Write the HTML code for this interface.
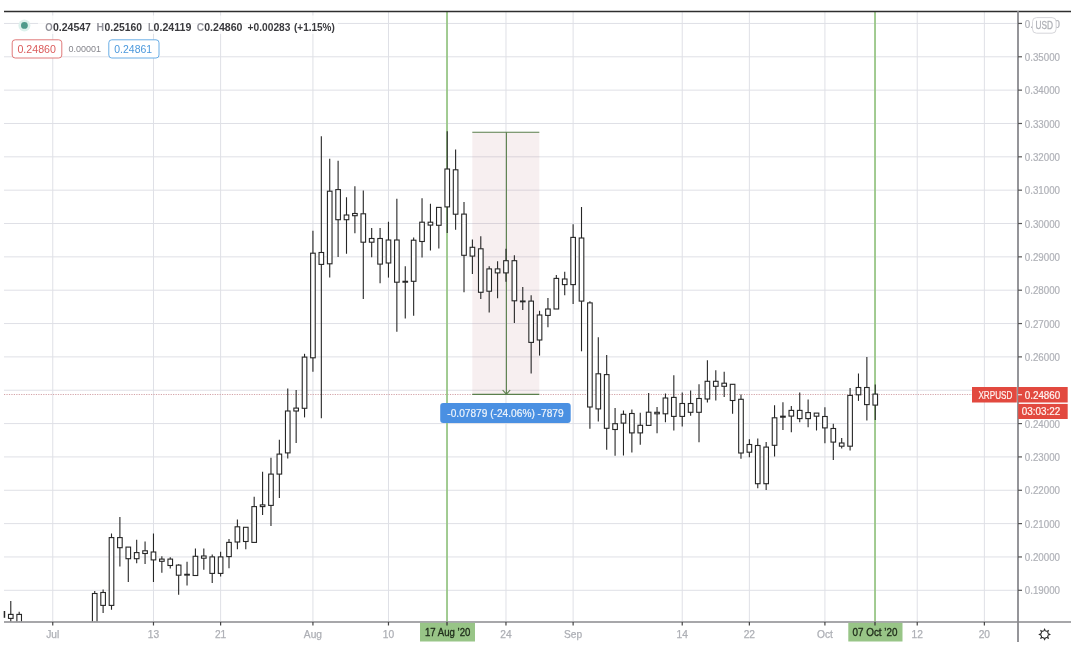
<!DOCTYPE html>
<html><head><meta charset="utf-8"><title>XRPUSD chart</title>
<style>
html,body{margin:0;padding:0;background:#fff;}
body{width:1080px;height:655px;overflow:hidden;font-family:"Liberation Sans", sans-serif;}
svg{display:block;will-change:transform;}
</style></head>
<body>
<svg width="1080" height="655" viewBox="0 0 1080 655">
<defs><clipPath id="chartclip"><rect x="4" y="12" width="1013" height="609.5"/></clipPath></defs>
<rect width="1080" height="655" fill="#fff"/>
<g stroke="#dfe0e6" stroke-width="1">
<line x1="4" y1="23.45" x2="1017" y2="23.45"/>
<line x1="4" y1="56.79" x2="1017" y2="56.79"/>
<line x1="4" y1="90.14" x2="1017" y2="90.14"/>
<line x1="4" y1="123.48" x2="1017" y2="123.48"/>
<line x1="4" y1="156.83" x2="1017" y2="156.83"/>
<line x1="4" y1="190.17" x2="1017" y2="190.17"/>
<line x1="4" y1="223.51" x2="1017" y2="223.51"/>
<line x1="4" y1="256.86" x2="1017" y2="256.86"/>
<line x1="4" y1="290.20" x2="1017" y2="290.20"/>
<line x1="4" y1="323.55" x2="1017" y2="323.55"/>
<line x1="4" y1="356.89" x2="1017" y2="356.89"/>
<line x1="4" y1="390.23" x2="1017" y2="390.23"/>
<line x1="4" y1="423.58" x2="1017" y2="423.58"/>
<line x1="4" y1="456.92" x2="1017" y2="456.92"/>
<line x1="4" y1="490.27" x2="1017" y2="490.27"/>
<line x1="4" y1="523.61" x2="1017" y2="523.61"/>
<line x1="4" y1="556.95" x2="1017" y2="556.95"/>
<line x1="4" y1="590.30" x2="1017" y2="590.30"/>
<line x1="52.75" y1="12" x2="52.75" y2="621"/>
<line x1="153.47" y1="12" x2="153.47" y2="621"/>
<line x1="220.61" y1="12" x2="220.61" y2="621"/>
<line x1="312.93" y1="12" x2="312.93" y2="621"/>
<line x1="388.47" y1="12" x2="388.47" y2="621"/>
<line x1="447.22" y1="12" x2="447.22" y2="621"/>
<line x1="505.97" y1="12" x2="505.97" y2="621"/>
<line x1="573.12" y1="12" x2="573.12" y2="621"/>
<line x1="682.23" y1="12" x2="682.23" y2="621"/>
<line x1="749.37" y1="12" x2="749.37" y2="621"/>
<line x1="824.91" y1="12" x2="824.91" y2="621"/>
<line x1="875.26" y1="12" x2="875.26" y2="621"/>
<line x1="917.23" y1="12" x2="917.23" y2="621"/>
<line x1="984.37" y1="12" x2="984.37" y2="621"/>
</g>
<rect x="472.3" y="132" width="67" height="262.4" fill="rgb(190,120,135)" fill-opacity="0.12"/>
<line x1="4" y1="394.5" x2="972" y2="394.5" stroke="#d4a3a8" stroke-width="1.1" stroke-dasharray="1.2,1.25"/>
<line x1="447.0" y1="12" x2="447.0" y2="622" stroke="#8fc27a" stroke-width="1.6"/>
<line x1="875.0" y1="12" x2="875.0" y2="622" stroke="#8fc27a" stroke-width="1.6"/>
<g stroke="#5a7f4c" stroke-width="1.1" fill="none">
<line x1="472.3" y1="132.3" x2="539.3" y2="132.3"/>
<line x1="472.3" y1="394.4" x2="539.3" y2="394.4"/>
<line x1="506.4" y1="132.3" x2="506.4" y2="394.4"/>
<polyline points="502.6,390 506.4,394.2 510.2,390"/>
</g>
<g clip-path="url(#chartclip)" stroke="#262626" fill="#fff">
<line x1="10.78" y1="601" x2="10.78" y2="625" stroke-width="1.1"/>
<rect x="8.48" y="614.4" width="4.6" height="4.00" stroke-width="1.1"/>
<line x1="19.18" y1="611.7" x2="19.18" y2="625" stroke-width="1.1"/>
<rect x="16.88" y="614.4" width="4.6" height="10.60" stroke-width="1.1"/>
<line x1="94.72" y1="591" x2="94.72" y2="625" stroke-width="1.1"/>
<rect x="92.42" y="593.5" width="4.6" height="31.50" stroke-width="1.1"/>
<line x1="103.11" y1="589.6" x2="103.11" y2="613" stroke-width="1.1"/>
<rect x="100.81" y="592.5" width="4.6" height="12.90" stroke-width="1.1"/>
<line x1="111.50" y1="533.4" x2="111.50" y2="609.8" stroke-width="1.1"/>
<rect x="109.20" y="537.6" width="4.6" height="67.80" stroke-width="1.1"/>
<line x1="119.89" y1="516.9" x2="119.89" y2="566.4" stroke-width="1.1"/>
<rect x="117.59" y="537.6" width="4.6" height="10.10" stroke-width="1.1"/>
<line x1="128.29" y1="547.1" x2="128.29" y2="581.9" stroke-width="1.1"/>
<rect x="125.99" y="547.1" width="4.6" height="11.60" stroke-width="1.1"/>
<line x1="136.68" y1="539.8" x2="136.68" y2="563.2" stroke-width="1.1"/>
<rect x="134.38" y="552.6" width="4.6" height="6.10" stroke-width="1.1"/>
<line x1="145.07" y1="541.6" x2="145.07" y2="564" stroke-width="1.1"/>
<rect x="142.77" y="550.8" width="4.6" height="2.70" stroke-width="1.1"/>
<line x1="153.47" y1="533.4" x2="153.47" y2="581.9" stroke-width="1.1"/>
<rect x="151.17" y="552" width="4.6" height="7.90" stroke-width="1.1"/>
<line x1="161.86" y1="556.3" x2="161.86" y2="572.8" stroke-width="1.1"/>
<rect x="159.56" y="559.1" width="4.6" height="2.20" stroke-width="1.1"/>
<line x1="170.25" y1="557.2" x2="170.25" y2="568.6" stroke-width="1.1"/>
<rect x="167.95" y="559.1" width="4.6" height="6.40" stroke-width="1.1"/>
<line x1="178.65" y1="564.2" x2="178.65" y2="594.8" stroke-width="1.1"/>
<rect x="176.34" y="565.1" width="4.6" height="10.10" stroke-width="1.1"/>
<line x1="187.04" y1="561.8" x2="187.04" y2="585.6" stroke-width="1.1"/>
<rect x="184.74" y="574.3" width="4.6" height="0.80" stroke-width="1.1"/>
<line x1="195.43" y1="548.5" x2="195.43" y2="575.5" stroke-width="1.1"/>
<rect x="193.13" y="556.3" width="4.6" height="19.20" stroke-width="1.1"/>
<line x1="203.82" y1="548.5" x2="203.82" y2="569.7" stroke-width="1.1"/>
<rect x="201.52" y="556" width="4.6" height="2.20" stroke-width="1.1"/>
<line x1="212.22" y1="554.5" x2="212.22" y2="582.9" stroke-width="1.1"/>
<rect x="209.92" y="556.9" width="4.6" height="16.50" stroke-width="1.1"/>
<line x1="220.61" y1="551.8" x2="220.61" y2="576.5" stroke-width="1.1"/>
<rect x="218.31" y="556.9" width="4.6" height="16.50" stroke-width="1.1"/>
<line x1="229.00" y1="539" x2="229.00" y2="568.3" stroke-width="1.1"/>
<rect x="226.70" y="542.4" width="4.6" height="14.20" stroke-width="1.1"/>
<line x1="237.40" y1="519.5" x2="237.40" y2="549.3" stroke-width="1.1"/>
<rect x="235.10" y="526.8" width="4.6" height="15.20" stroke-width="1.1"/>
<line x1="245.79" y1="527.3" x2="245.79" y2="549.3" stroke-width="1.1"/>
<rect x="243.49" y="527.3" width="4.6" height="14.20" stroke-width="1.1"/>
<line x1="254.18" y1="496.8" x2="254.18" y2="543" stroke-width="1.1"/>
<rect x="251.88" y="506.6" width="4.6" height="35.80" stroke-width="1.1"/>
<line x1="262.58" y1="471.7" x2="262.58" y2="515.1" stroke-width="1.1"/>
<rect x="260.28" y="504.9" width="4.6" height="1.70" stroke-width="1.1"/>
<line x1="270.97" y1="457.8" x2="270.97" y2="526.1" stroke-width="1.1"/>
<rect x="268.67" y="474.1" width="4.6" height="31.30" stroke-width="1.1"/>
<line x1="279.36" y1="439.7" x2="279.36" y2="498" stroke-width="1.1"/>
<rect x="277.06" y="454.1" width="4.6" height="20.00" stroke-width="1.1"/>
<line x1="287.75" y1="388.5" x2="287.75" y2="458.5" stroke-width="1.1"/>
<rect x="285.45" y="411" width="4.6" height="41.90" stroke-width="1.1"/>
<line x1="296.15" y1="390" x2="296.15" y2="443" stroke-width="1.1"/>
<rect x="293.85" y="408.1" width="4.6" height="2.90" stroke-width="1.1"/>
<line x1="304.54" y1="353.8" x2="304.54" y2="417.4" stroke-width="1.1"/>
<rect x="302.24" y="357.1" width="4.6" height="51.20" stroke-width="1.1"/>
<line x1="312.93" y1="230.7" x2="312.93" y2="371.7" stroke-width="1.1"/>
<rect x="310.63" y="253.2" width="4.6" height="104.60" stroke-width="1.1"/>
<line x1="321.33" y1="136.3" x2="321.33" y2="418.2" stroke-width="1.1"/>
<rect x="319.03" y="252.5" width="4.6" height="11.90" stroke-width="1.1"/>
<line x1="329.72" y1="158.8" x2="329.72" y2="277.6" stroke-width="1.1"/>
<rect x="327.42" y="191.2" width="4.6" height="72.60" stroke-width="1.1"/>
<line x1="338.11" y1="160.7" x2="338.11" y2="257.1" stroke-width="1.1"/>
<rect x="335.81" y="189.6" width="4.6" height="30.10" stroke-width="1.1"/>
<line x1="346.50" y1="197.3" x2="346.50" y2="253.8" stroke-width="1.1"/>
<rect x="344.20" y="215" width="4.6" height="4.70" stroke-width="1.1"/>
<line x1="354.90" y1="186.3" x2="354.90" y2="233.3" stroke-width="1.1"/>
<rect x="352.60" y="213.5" width="4.6" height="2.20" stroke-width="1.1"/>
<line x1="363.29" y1="190.6" x2="363.29" y2="299.1" stroke-width="1.1"/>
<rect x="360.99" y="213.8" width="4.6" height="28.40" stroke-width="1.1"/>
<line x1="371.68" y1="227.9" x2="371.68" y2="257.2" stroke-width="1.1"/>
<rect x="369.38" y="238.5" width="4.6" height="3.70" stroke-width="1.1"/>
<line x1="380.08" y1="227.9" x2="380.08" y2="283.3" stroke-width="1.1"/>
<rect x="377.78" y="238.5" width="4.6" height="25.60" stroke-width="1.1"/>
<line x1="388.47" y1="221.7" x2="388.47" y2="277.6" stroke-width="1.1"/>
<rect x="386.17" y="240" width="4.6" height="23.00" stroke-width="1.1"/>
<line x1="396.86" y1="198.7" x2="396.86" y2="331.7" stroke-width="1.1"/>
<rect x="394.56" y="240" width="4.6" height="42.20" stroke-width="1.1"/>
<line x1="405.26" y1="266.2" x2="405.26" y2="318.4" stroke-width="1.1"/>
<rect x="402.96" y="281.3" width="4.6" height="0.90" stroke-width="1.1"/>
<line x1="413.65" y1="237.4" x2="413.65" y2="315.7" stroke-width="1.1"/>
<rect x="411.35" y="240.2" width="4.6" height="41.10" stroke-width="1.1"/>
<line x1="422.04" y1="198.3" x2="422.04" y2="257.6" stroke-width="1.1"/>
<rect x="419.74" y="222.2" width="4.6" height="19.30" stroke-width="1.1"/>
<line x1="430.44" y1="203.8" x2="430.44" y2="250.6" stroke-width="1.1"/>
<rect x="428.14" y="222.2" width="4.6" height="2.90" stroke-width="1.1"/>
<line x1="438.83" y1="207.4" x2="438.83" y2="248.4" stroke-width="1.1"/>
<rect x="436.53" y="207.4" width="4.6" height="17.90" stroke-width="1.1"/>
<line x1="447.22" y1="131.3" x2="447.22" y2="232.9" stroke-width="1.1"/>
<rect x="444.92" y="169" width="4.6" height="37.90" stroke-width="1.1"/>
<line x1="455.61" y1="149.6" x2="455.61" y2="229.8" stroke-width="1.1"/>
<rect x="453.31" y="169.8" width="4.6" height="44.40" stroke-width="1.1"/>
<line x1="464.01" y1="202" x2="464.01" y2="292.3" stroke-width="1.1"/>
<rect x="461.71" y="214.1" width="4.6" height="41.20" stroke-width="1.1"/>
<line x1="472.40" y1="239.6" x2="472.40" y2="274" stroke-width="1.1"/>
<rect x="470.10" y="247.3" width="4.6" height="8.80" stroke-width="1.1"/>
<line x1="480.79" y1="236.3" x2="480.79" y2="299.1" stroke-width="1.1"/>
<rect x="478.49" y="248.8" width="4.6" height="43.50" stroke-width="1.1"/>
<line x1="489.19" y1="266.2" x2="489.19" y2="312.4" stroke-width="1.1"/>
<rect x="486.89" y="268.9" width="4.6" height="22.30" stroke-width="1.1"/>
<line x1="497.58" y1="261.2" x2="497.58" y2="298.2" stroke-width="1.1"/>
<rect x="495.28" y="268.9" width="4.6" height="4.00" stroke-width="1.1"/>
<line x1="505.97" y1="248.8" x2="505.97" y2="281.7" stroke-width="1.1"/>
<rect x="503.67" y="260.7" width="4.6" height="12.20" stroke-width="1.1"/>
<line x1="514.37" y1="255.2" x2="514.37" y2="322.9" stroke-width="1.1"/>
<rect x="512.07" y="260.7" width="4.6" height="40.10" stroke-width="1.1"/>
<line x1="522.76" y1="287" x2="522.76" y2="309.9" stroke-width="1.1"/>
<rect x="520.46" y="301" width="4.6" height="0.80" stroke-width="1.1"/>
<line x1="531.15" y1="295.2" x2="531.15" y2="373.5" stroke-width="1.1"/>
<rect x="528.85" y="301.1" width="4.6" height="41.30" stroke-width="1.1"/>
<line x1="539.54" y1="310.8" x2="539.54" y2="355.6" stroke-width="1.1"/>
<rect x="537.24" y="315" width="4.6" height="25.00" stroke-width="1.1"/>
<line x1="547.94" y1="298" x2="547.94" y2="327.3" stroke-width="1.1"/>
<rect x="545.64" y="309" width="4.6" height="6.40" stroke-width="1.1"/>
<line x1="556.33" y1="275.1" x2="556.33" y2="309" stroke-width="1.1"/>
<rect x="554.03" y="278.4" width="4.6" height="30.60" stroke-width="1.1"/>
<line x1="564.72" y1="271.8" x2="564.72" y2="295.2" stroke-width="1.1"/>
<rect x="562.42" y="279" width="4.6" height="5.60" stroke-width="1.1"/>
<line x1="573.12" y1="224.3" x2="573.12" y2="304" stroke-width="1.1"/>
<rect x="570.82" y="237.4" width="4.6" height="47.20" stroke-width="1.1"/>
<line x1="581.51" y1="206.9" x2="581.51" y2="351.3" stroke-width="1.1"/>
<rect x="579.21" y="238" width="4.6" height="63.10" stroke-width="1.1"/>
<line x1="589.90" y1="301.3" x2="589.90" y2="428.8" stroke-width="1.1"/>
<rect x="587.60" y="302.9" width="4.6" height="104.10" stroke-width="1.1"/>
<line x1="598.30" y1="337.2" x2="598.30" y2="421.6" stroke-width="1.1"/>
<rect x="596.00" y="373.8" width="4.6" height="35.10" stroke-width="1.1"/>
<line x1="606.69" y1="355" x2="606.69" y2="449.7" stroke-width="1.1"/>
<rect x="604.39" y="374.6" width="4.6" height="53.70" stroke-width="1.1"/>
<line x1="615.08" y1="407.9" x2="615.08" y2="455.8" stroke-width="1.1"/>
<rect x="612.78" y="423.7" width="4.6" height="5.80" stroke-width="1.1"/>
<line x1="623.47" y1="410.5" x2="623.47" y2="455.5" stroke-width="1.1"/>
<rect x="621.17" y="414.3" width="4.6" height="8.80" stroke-width="1.1"/>
<line x1="631.87" y1="409.4" x2="631.87" y2="452.4" stroke-width="1.1"/>
<rect x="629.57" y="413.5" width="4.6" height="19.40" stroke-width="1.1"/>
<line x1="640.26" y1="412.7" x2="640.26" y2="444.8" stroke-width="1.1"/>
<rect x="637.96" y="425.3" width="4.6" height="7.60" stroke-width="1.1"/>
<line x1="648.65" y1="392.9" x2="648.65" y2="425.4" stroke-width="1.1"/>
<rect x="646.35" y="412.2" width="4.6" height="13.20" stroke-width="1.1"/>
<line x1="657.05" y1="407" x2="657.05" y2="433.3" stroke-width="1.1"/>
<rect x="654.75" y="412.3" width="4.6" height="1.50" stroke-width="1.1"/>
<line x1="665.44" y1="393.5" x2="665.44" y2="422.2" stroke-width="1.1"/>
<rect x="663.14" y="398" width="4.6" height="15.80" stroke-width="1.1"/>
<line x1="673.83" y1="375.2" x2="673.83" y2="430.6" stroke-width="1.1"/>
<rect x="671.53" y="397.4" width="4.6" height="19.00" stroke-width="1.1"/>
<line x1="682.23" y1="392.4" x2="682.23" y2="426.5" stroke-width="1.1"/>
<rect x="679.93" y="403.5" width="4.6" height="12.90" stroke-width="1.1"/>
<line x1="690.62" y1="390.4" x2="690.62" y2="415.8" stroke-width="1.1"/>
<rect x="688.32" y="403.5" width="4.6" height="8.80" stroke-width="1.1"/>
<line x1="699.01" y1="384.3" x2="699.01" y2="442.3" stroke-width="1.1"/>
<rect x="696.71" y="398.5" width="4.6" height="13.80" stroke-width="1.1"/>
<line x1="707.40" y1="360.3" x2="707.40" y2="402.5" stroke-width="1.1"/>
<rect x="705.10" y="381.3" width="4.6" height="17.70" stroke-width="1.1"/>
<line x1="715.80" y1="370.3" x2="715.80" y2="400.5" stroke-width="1.1"/>
<rect x="713.50" y="381.3" width="4.6" height="5.00" stroke-width="1.1"/>
<line x1="724.19" y1="371.8" x2="724.19" y2="397" stroke-width="1.1"/>
<rect x="721.89" y="383.2" width="4.6" height="3.10" stroke-width="1.1"/>
<line x1="732.58" y1="384.3" x2="732.58" y2="413.8" stroke-width="1.1"/>
<rect x="730.28" y="384.3" width="4.6" height="16.20" stroke-width="1.1"/>
<line x1="740.98" y1="394.4" x2="740.98" y2="458.8" stroke-width="1.1"/>
<rect x="738.68" y="399.3" width="4.6" height="53.70" stroke-width="1.1"/>
<line x1="749.37" y1="439.2" x2="749.37" y2="457.3" stroke-width="1.1"/>
<rect x="747.07" y="444.5" width="4.6" height="7.70" stroke-width="1.1"/>
<line x1="757.76" y1="438.5" x2="757.76" y2="488.2" stroke-width="1.1"/>
<rect x="755.46" y="445.5" width="4.6" height="38.20" stroke-width="1.1"/>
<line x1="766.16" y1="442" x2="766.16" y2="490.1" stroke-width="1.1"/>
<rect x="763.86" y="447.1" width="4.6" height="36.60" stroke-width="1.1"/>
<line x1="774.55" y1="405.2" x2="774.55" y2="456.5" stroke-width="1.1"/>
<rect x="772.25" y="417.8" width="4.6" height="27.50" stroke-width="1.1"/>
<line x1="782.94" y1="402.2" x2="782.94" y2="430" stroke-width="1.1"/>
<rect x="780.64" y="416.2" width="4.6" height="1.00" stroke-width="1.1"/>
<line x1="791.33" y1="406" x2="791.33" y2="432.2" stroke-width="1.1"/>
<rect x="789.03" y="410.4" width="4.6" height="5.70" stroke-width="1.1"/>
<line x1="799.73" y1="392.4" x2="799.73" y2="422.2" stroke-width="1.1"/>
<rect x="797.43" y="410.4" width="4.6" height="8.20" stroke-width="1.1"/>
<line x1="808.12" y1="399.4" x2="808.12" y2="427.2" stroke-width="1.1"/>
<rect x="805.82" y="412.6" width="4.6" height="6.00" stroke-width="1.1"/>
<line x1="816.51" y1="413.1" x2="816.51" y2="430.5" stroke-width="1.1"/>
<rect x="814.21" y="413.1" width="4.6" height="3.10" stroke-width="1.1"/>
<line x1="824.91" y1="407.3" x2="824.91" y2="443.2" stroke-width="1.1"/>
<rect x="822.61" y="416.5" width="4.6" height="11.40" stroke-width="1.1"/>
<line x1="833.30" y1="423.8" x2="833.30" y2="460" stroke-width="1.1"/>
<rect x="831.00" y="428.5" width="4.6" height="13.60" stroke-width="1.1"/>
<line x1="841.69" y1="438" x2="841.69" y2="448.4" stroke-width="1.1"/>
<rect x="839.39" y="443" width="4.6" height="3.20" stroke-width="1.1"/>
<line x1="850.09" y1="388" x2="850.09" y2="450.6" stroke-width="1.1"/>
<rect x="847.79" y="395.4" width="4.6" height="50.80" stroke-width="1.1"/>
<line x1="858.48" y1="373.5" x2="858.48" y2="400.9" stroke-width="1.1"/>
<rect x="856.18" y="387.5" width="4.6" height="7.30" stroke-width="1.1"/>
<line x1="866.87" y1="356.9" x2="866.87" y2="420.5" stroke-width="1.1"/>
<rect x="864.57" y="387.5" width="4.6" height="17.10" stroke-width="1.1"/>
<line x1="875.26" y1="384.4" x2="875.26" y2="420.1" stroke-width="1.1"/>
<rect x="872.96" y="394.1" width="4.6" height="11.00" stroke-width="1.1"/>
</g>
<rect x="3.7" y="611" width="1.5" height="6.8" fill="#262626"/>
<rect x="440.2" y="403" width="130.5" height="20" rx="3" fill="#4a90e2"/>
<text x="447.3" y="416.8" textLength="116.3" lengthAdjust="spacingAndGlyphs" font-family='"Liberation Sans", sans-serif' font-size="10.6" fill="#eef4fb" stroke="#eef4fb" stroke-width="0.2">-0.07879 (-24.06%) -7879</text>
<line x1="4" y1="11.6" x2="1071" y2="11.6" stroke="#2e2e2e" stroke-width="1.5"/>
<line x1="4" y1="622" x2="1071" y2="622" stroke="#8a8a8e" stroke-width="1.7"/>
<line x1="1018" y1="11" x2="1018" y2="642" stroke="#8a8a8e" stroke-width="1.8"/>
<g font-family='"Liberation Sans", sans-serif' font-size="10" fill="#afb1b7" stroke="#afb1b7" stroke-width="0.2">
<line x1="1018" y1="23.45" x2="1022" y2="23.45" stroke="#555" stroke-width="1.2"/>
<text x="1024.8" y="27.50" textLength="35.2" lengthAdjust="spacingAndGlyphs">0.36000</text>
<line x1="1018" y1="56.79" x2="1022" y2="56.79" stroke="#555" stroke-width="1.2"/>
<text x="1024.8" y="60.84" textLength="35.2" lengthAdjust="spacingAndGlyphs">0.35000</text>
<line x1="1018" y1="90.14" x2="1022" y2="90.14" stroke="#555" stroke-width="1.2"/>
<text x="1024.8" y="94.19" textLength="35.2" lengthAdjust="spacingAndGlyphs">0.34000</text>
<line x1="1018" y1="123.48" x2="1022" y2="123.48" stroke="#555" stroke-width="1.2"/>
<text x="1024.8" y="127.53" textLength="35.2" lengthAdjust="spacingAndGlyphs">0.33000</text>
<line x1="1018" y1="156.83" x2="1022" y2="156.83" stroke="#555" stroke-width="1.2"/>
<text x="1024.8" y="160.88" textLength="35.2" lengthAdjust="spacingAndGlyphs">0.32000</text>
<line x1="1018" y1="190.17" x2="1022" y2="190.17" stroke="#555" stroke-width="1.2"/>
<text x="1024.8" y="194.22" textLength="35.2" lengthAdjust="spacingAndGlyphs">0.31000</text>
<line x1="1018" y1="223.51" x2="1022" y2="223.51" stroke="#555" stroke-width="1.2"/>
<text x="1024.8" y="227.56" textLength="35.2" lengthAdjust="spacingAndGlyphs">0.30000</text>
<line x1="1018" y1="256.86" x2="1022" y2="256.86" stroke="#555" stroke-width="1.2"/>
<text x="1024.8" y="260.91" textLength="35.2" lengthAdjust="spacingAndGlyphs">0.29000</text>
<line x1="1018" y1="290.20" x2="1022" y2="290.20" stroke="#555" stroke-width="1.2"/>
<text x="1024.8" y="294.25" textLength="35.2" lengthAdjust="spacingAndGlyphs">0.28000</text>
<line x1="1018" y1="323.55" x2="1022" y2="323.55" stroke="#555" stroke-width="1.2"/>
<text x="1024.8" y="327.60" textLength="35.2" lengthAdjust="spacingAndGlyphs">0.27000</text>
<line x1="1018" y1="356.89" x2="1022" y2="356.89" stroke="#555" stroke-width="1.2"/>
<text x="1024.8" y="360.94" textLength="35.2" lengthAdjust="spacingAndGlyphs">0.26000</text>
<line x1="1018" y1="423.58" x2="1022" y2="423.58" stroke="#555" stroke-width="1.2"/>
<text x="1024.8" y="427.63" textLength="35.2" lengthAdjust="spacingAndGlyphs">0.24000</text>
<line x1="1018" y1="456.92" x2="1022" y2="456.92" stroke="#555" stroke-width="1.2"/>
<text x="1024.8" y="460.97" textLength="35.2" lengthAdjust="spacingAndGlyphs">0.23000</text>
<line x1="1018" y1="490.27" x2="1022" y2="490.27" stroke="#555" stroke-width="1.2"/>
<text x="1024.8" y="494.32" textLength="35.2" lengthAdjust="spacingAndGlyphs">0.22000</text>
<line x1="1018" y1="523.61" x2="1022" y2="523.61" stroke="#555" stroke-width="1.2"/>
<text x="1024.8" y="527.66" textLength="35.2" lengthAdjust="spacingAndGlyphs">0.21000</text>
<line x1="1018" y1="556.95" x2="1022" y2="556.95" stroke="#555" stroke-width="1.2"/>
<text x="1024.8" y="561.00" textLength="35.2" lengthAdjust="spacingAndGlyphs">0.20000</text>
<line x1="1018" y1="590.30" x2="1022" y2="590.30" stroke="#555" stroke-width="1.2"/>
<text x="1024.8" y="594.35" textLength="35.2" lengthAdjust="spacingAndGlyphs">0.19000</text>
</g>
<g font-family='"Liberation Sans", sans-serif' font-size="10.2" fill="#adafb5" stroke="#adafb5" stroke-width="0.25" text-anchor="middle">
<line x1="52.75" y1="622" x2="52.75" y2="625.5" stroke="#444" stroke-width="1.2"/>
<text x="52.75" y="638">Jul</text>
<line x1="153.47" y1="622" x2="153.47" y2="625.5" stroke="#444" stroke-width="1.2"/>
<text x="153.47" y="638">13</text>
<line x1="220.61" y1="622" x2="220.61" y2="625.5" stroke="#444" stroke-width="1.2"/>
<text x="220.61" y="638">21</text>
<line x1="312.93" y1="622" x2="312.93" y2="625.5" stroke="#444" stroke-width="1.2"/>
<text x="312.93" y="638">Aug</text>
<line x1="388.47" y1="622" x2="388.47" y2="625.5" stroke="#444" stroke-width="1.2"/>
<text x="388.47" y="638">10</text>
<line x1="505.97" y1="622" x2="505.97" y2="625.5" stroke="#444" stroke-width="1.2"/>
<text x="505.97" y="638">24</text>
<line x1="573.12" y1="622" x2="573.12" y2="625.5" stroke="#444" stroke-width="1.2"/>
<text x="573.12" y="638">Sep</text>
<line x1="682.23" y1="622" x2="682.23" y2="625.5" stroke="#444" stroke-width="1.2"/>
<text x="682.23" y="638">14</text>
<line x1="749.37" y1="622" x2="749.37" y2="625.5" stroke="#444" stroke-width="1.2"/>
<text x="749.37" y="638">22</text>
<line x1="824.91" y1="622" x2="824.91" y2="625.5" stroke="#444" stroke-width="1.2"/>
<text x="824.91" y="638">Oct</text>
<line x1="917.23" y1="622" x2="917.23" y2="625.5" stroke="#444" stroke-width="1.2"/>
<text x="917.23" y="638">12</text>
<line x1="984.37" y1="622" x2="984.37" y2="625.5" stroke="#444" stroke-width="1.2"/>
<text x="984.37" y="638">20</text>
</g>
<rect x="420" y="622.8" width="55.0" height="18.7" fill="#98c587"/>
<line x1="447" y1="622" x2="447" y2="625.5" stroke="#333" stroke-width="1.2"/>
<text x="425.0" y="636.4" textLength="45.3" lengthAdjust="spacingAndGlyphs" font-family='"Liberation Sans", sans-serif' font-size="10.8" fill="#1f2c1a" stroke="#1f2c1a" stroke-width="0.35">17 Aug ’20</text>
<rect x="848.3" y="622.8" width="54.2" height="18.7" fill="#98c587"/>
<line x1="875" y1="622" x2="875" y2="625.5" stroke="#333" stroke-width="1.2"/>
<text x="852.6" y="636.4" textLength="44.9" lengthAdjust="spacingAndGlyphs" font-family='"Liberation Sans", sans-serif' font-size="10.8" fill="#1f2c1a" stroke="#1f2c1a" stroke-width="0.35">07 Oct ’20</text>
<rect x="972" y="387" width="44.8" height="15.5" fill="#e2493f"/>
<rect x="1018.2" y="387" width="49.5" height="15.5" fill="#e2493f"/>
<rect x="1018.2" y="403.9" width="49.5" height="15.1" fill="#e2493f"/>
<line x1="1018" y1="394.7" x2="1022" y2="394.7" stroke="#fbe3e1" stroke-width="1.2"/>
<g font-family='"Liberation Sans", sans-serif' font-size="10.2" fill="#fff5f2" stroke="#fff5f2" stroke-width="0.2">
<text x="978.4" y="398.5" textLength="34" lengthAdjust="spacingAndGlyphs">XRPUSD</text>
<text x="1024.7" y="398.5" textLength="35.6" lengthAdjust="spacingAndGlyphs">0.24860</text>
<text x="1021.7" y="415.2" textLength="38.6" lengthAdjust="spacingAndGlyphs">03:03:22</text>
</g>
<rect x="1032.5" y="17.6" width="23.6" height="15.6" rx="4" fill="#fff" stroke="#d6d6da" stroke-width="1"/>
<text x="1035.4" y="28.9" textLength="17.5" lengthAdjust="spacingAndGlyphs" font-family='"Liberation Sans", sans-serif' font-size="10.5" fill="#aeb0b6" stroke="#aeb0b6" stroke-width="0.3">USD</text>
<g fill="#2a2a2a">
<polygon points="1051.00,634.40 1048.28,633.10 1048.28,635.70"/>
<polygon points="1049.13,638.93 1048.12,636.08 1046.28,637.92"/>
<polygon points="1044.60,640.80 1045.90,638.08 1043.30,638.08"/>
<polygon points="1040.07,638.93 1042.92,637.92 1041.08,636.08"/>
<polygon points="1038.20,634.40 1040.92,635.70 1040.92,633.10"/>
<polygon points="1040.07,629.87 1041.08,632.72 1042.92,630.88"/>
<polygon points="1044.60,628.00 1043.30,630.72 1045.90,630.72"/>
<polygon points="1049.13,629.87 1046.28,630.88 1048.12,632.72"/>
</g>
<circle cx="1044.6" cy="634.4" r="3.8" fill="#fff" stroke="#2a2a2a" stroke-width="1"/>
<rect x="38" y="15.5" width="300" height="18.5" fill="#fff" fill-opacity="0.72"/>
<circle cx="24.4" cy="25.4" r="6" fill="#dcf1ec"/>
<circle cx="24.4" cy="25.4" r="3.4" fill="#4e9b8b"/>
<g font-family='"Liberation Sans", sans-serif' font-size="10">
<text x="45.2" y="30.6" textLength="7.4" lengthAdjust="spacingAndGlyphs" fill="#909098" font-weight="bold">O</text>
<text x="52.9" y="30.6" textLength="38.1" lengthAdjust="spacingAndGlyphs" fill="#3a3a3e" font-weight="bold">0.24547</text>
<text x="96.5" y="30.6" textLength="7.6" lengthAdjust="spacingAndGlyphs" fill="#909098" font-weight="bold">H</text>
<text x="104.6" y="30.6" textLength="37.5" lengthAdjust="spacingAndGlyphs" fill="#3a3a3e" font-weight="bold">0.25160</text>
<text x="147.9" y="30.6" textLength="5.6" lengthAdjust="spacingAndGlyphs" fill="#909098" font-weight="bold">L</text>
<text x="153.5" y="30.6" textLength="37.9" lengthAdjust="spacingAndGlyphs" fill="#3a3a3e" font-weight="bold">0.24119</text>
<text x="196.8" y="30.6" textLength="7.4" lengthAdjust="spacingAndGlyphs" fill="#909098" font-weight="bold">C</text>
<text x="204.2" y="30.6" textLength="38.3" lengthAdjust="spacingAndGlyphs" fill="#3a3a3e" font-weight="bold">0.24860</text>
<text x="247.6" y="30.6" textLength="42.8" lengthAdjust="spacingAndGlyphs" fill="#3a3a3e" font-weight="bold">+0.00283</text>
<text x="294.0" y="30.6" textLength="40.8" lengthAdjust="spacingAndGlyphs" fill="#3a3a3e" font-weight="bold">(+1.15%)</text>
</g>
<rect x="12.2" y="39.8" width="49.6" height="18.2" rx="3" fill="#fff" stroke="#e07a7a" stroke-width="1"/>
<g font-family='"Liberation Sans", sans-serif' font-size="10.5">
<text x="17.4" y="52.9" textLength="38.6" lengthAdjust="spacingAndGlyphs" fill="#db5b5b">0.24860</text>
</g>
<g font-family='"Liberation Sans", sans-serif' font-size="8.8">
<text x="68.5" y="51.9" textLength="32.5" lengthAdjust="spacingAndGlyphs" fill="#85858c">0.00001</text>
</g>
<rect x="108.8" y="39.8" width="50.2" height="18.2" rx="3" fill="#fff" stroke="#6aaee6" stroke-width="1"/>
<g font-family='"Liberation Sans", sans-serif' font-size="10.5">
<text x="114.3" y="52.9" textLength="37.8" lengthAdjust="spacingAndGlyphs" fill="#4a98dc">0.24861</text>
</g>
</svg>
</body></html>
